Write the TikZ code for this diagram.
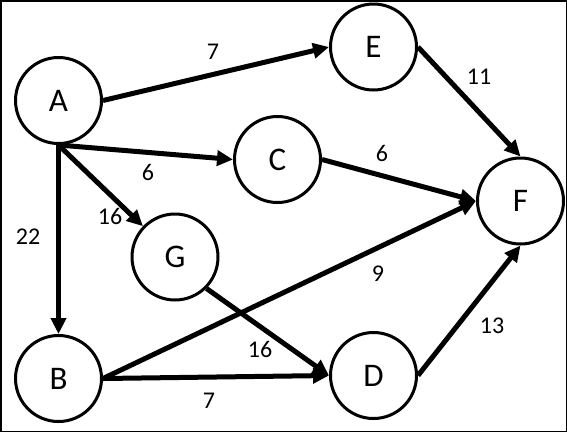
\documentclass[tikz,border=0pt]{standalone}
\usepackage{fontspec}
\setmainfont{Carlito}
\usetikzlibrary{arrows.meta}
\begin{document}
\begin{tikzpicture}[x=1pt,y=-1pt,
  vertex/.style={circle,draw=black,line width=3pt,fill=white,minimum size=86pt,inner sep=0pt,font=\fontsize{33}{36}\selectfont},
  edge/.style={line width=5pt,-{Triangle[length=16pt,width=15pt]}},
  wt/.style={font=\fontsize{24}{26}\selectfont,inner sep=0pt}]
\useasboundingbox (0,0) rectangle (567,432);
\draw[line width=1.5pt] (0.75,0.75) rectangle (566.25,431.25);
\node[vertex] (A) at (58.5,100.5) {A};
\node[vertex] (E) at (373.5,47) {E};
\node[vertex] (C) at (277.5,159.5) {C};
\node[vertex] (F) at (520.5,201) {F};
\node[vertex] (G) at (175,257) {G};
\node[vertex] (B) at (58.5,378.5) {B};
\node[vertex] (D) at (373.5,375.5) {D};
\draw[edge] (A.east) -- (E.west);
\draw[edge] (A.south) -- (C.west);
\draw[edge] (A.south) -- (G);
\draw[edge] (A.south) -- (B.north);
\draw[edge] (E.east) -- (F.north);
\draw[edge] (C.east) -- (F.west);
\draw[edge] (B.east) -- (F.west);
\draw[edge] (G.-45) -- (D.west);
\draw[edge] (B.east) -- (D.west);
\draw[edge] (D.east) -- (F.south);
\node[wt] (w1) at (213,52) {7};
\node[wt] (w2) at (148,172) {6};
\node[wt] (w3) at (110,216) {16};
\node[wt] (w4) at (28,237) {22};
\node[wt] (w5) at (479,77) {11};
\node[wt] (w6) at (382,153) {6};
\node[wt] (w7) at (378,274) {9};
\node[wt] (w8) at (260,349) {16};
\node[wt] (w9) at (492,326) {13};
\node[wt] (w10) at (209,401) {7};
\end{tikzpicture}
\end{document}
